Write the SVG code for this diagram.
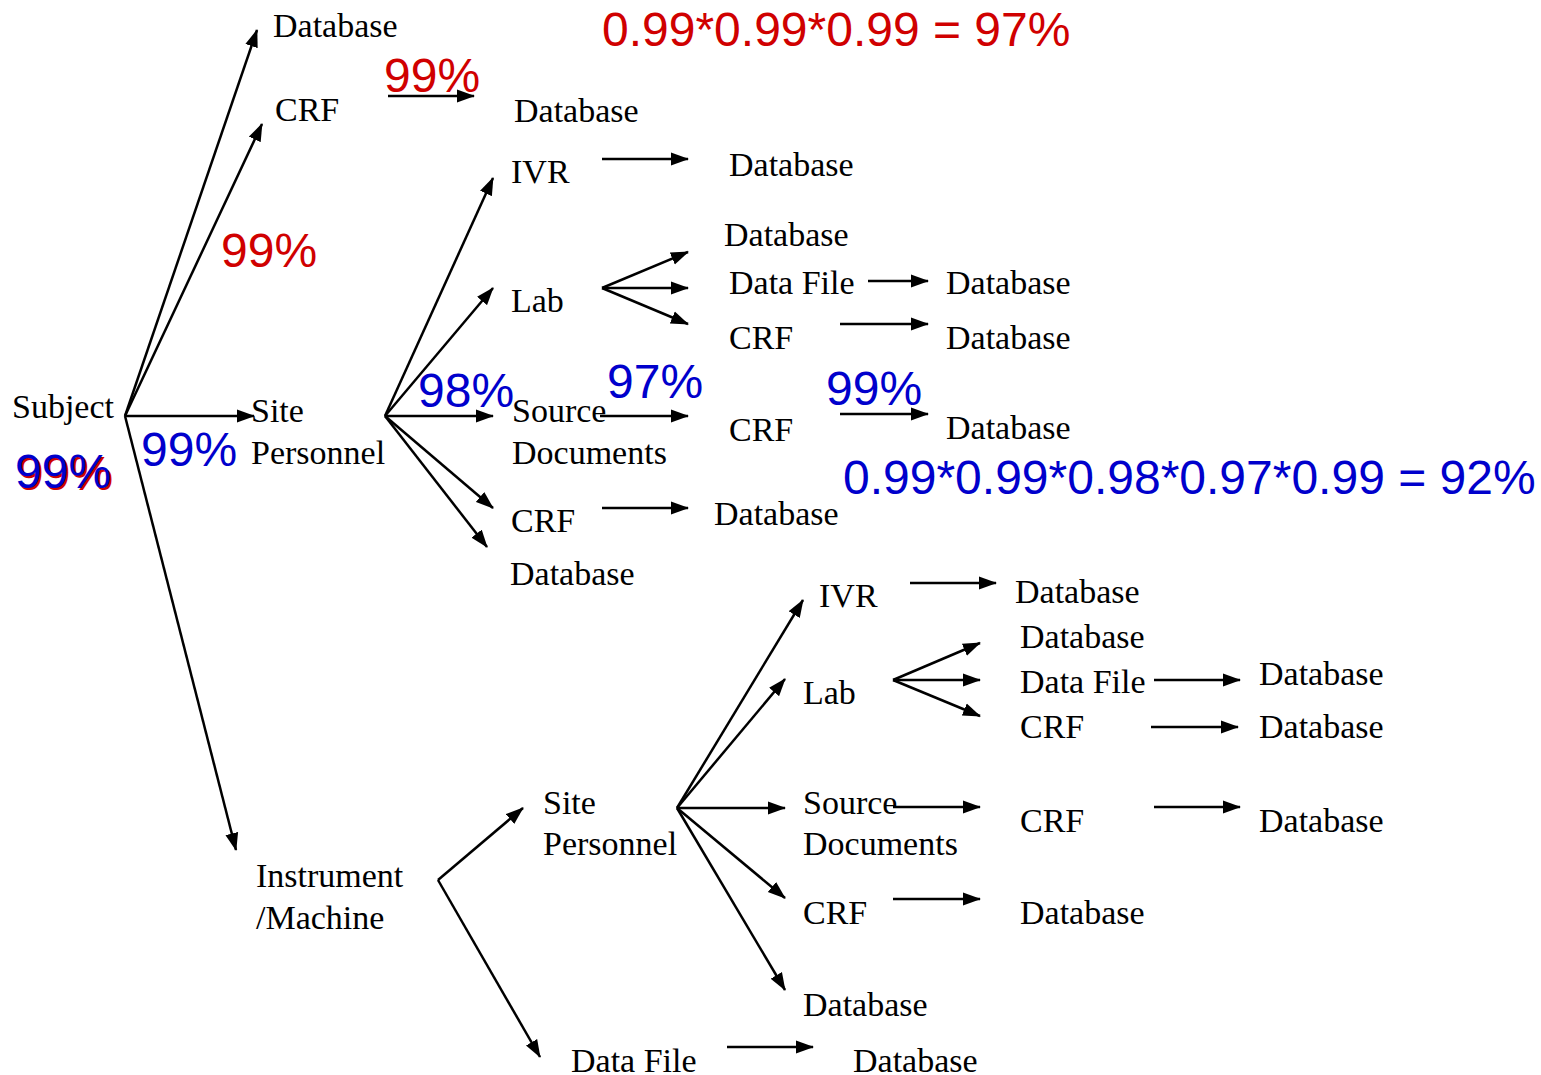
<svg xmlns="http://www.w3.org/2000/svg" width="1541" height="1075" viewBox="0 0 1541 1075">
<style>
.t{font-family:"Liberation Serif","Times New Roman",serif;font-size:34px;fill:#000}
.r{font-family:"Liberation Sans",Arial,sans-serif;font-size:48px;fill:#d00000}
.b{font-family:"Liberation Sans",Arial,sans-serif;font-size:48px;fill:#0000cc}
.c line{stroke:#000;stroke-width:2.5;marker-end:url(#ah)}
</style>
<defs>
<marker id="ah" markerUnits="userSpaceOnUse" markerWidth="18" markerHeight="14" refX="17" refY="6.5" orient="auto" viewBox="0 0 18 13">
<path d="M0,0 L18,6.5 L0,13 z" fill="#000"/>
</marker>
</defs>
<rect width="1541" height="1075" fill="#fff"/>
<g class="c" id="connectors">
<line x1="125" y1="416" x2="257" y2="30"/>
<line x1="125" y1="416" x2="262" y2="124"/>
<line x1="125" y1="416" x2="254" y2="416"/>
<line x1="125" y1="416" x2="236" y2="850"/>
<line x1="388" y1="96" x2="474" y2="96"/>
<line x1="385" y1="416" x2="493" y2="178"/>
<line x1="385" y1="416" x2="493" y2="288"/>
<line x1="385" y1="416" x2="493" y2="416"/>
<line x1="385" y1="416" x2="493" y2="508"/>
<line x1="385" y1="416" x2="487" y2="547"/>
<line x1="602" y1="159" x2="688" y2="159"/>
<line x1="602" y1="288" x2="688" y2="252"/>
<line x1="602" y1="288" x2="688" y2="288"/>
<line x1="602" y1="288" x2="688" y2="324"/>
<line x1="868" y1="281" x2="928" y2="281"/>
<line x1="840" y1="324" x2="928" y2="324"/>
<line x1="600" y1="416" x2="688" y2="416"/>
<line x1="840" y1="414" x2="928" y2="414"/>
<line x1="602" y1="508" x2="688" y2="508"/>
<line x1="438" y1="880" x2="523" y2="808"/>
<line x1="438" y1="880" x2="540" y2="1057"/>
<line x1="677" y1="808" x2="803" y2="600"/>
<line x1="677" y1="808" x2="785" y2="679"/>
<line x1="677" y1="808" x2="785" y2="808"/>
<line x1="677" y1="808" x2="785" y2="898"/>
<line x1="677" y1="808" x2="785" y2="990"/>
<line x1="910" y1="583" x2="996" y2="583"/>
<line x1="893" y1="680" x2="980" y2="643"/>
<line x1="893" y1="680" x2="980" y2="680"/>
<line x1="893" y1="680" x2="980" y2="716"/>
<line x1="1154" y1="680" x2="1240" y2="680"/>
<line x1="1151" y1="727" x2="1238" y2="727"/>
<line x1="893" y1="807" x2="980" y2="807"/>
<line x1="1154" y1="807" x2="1240" y2="807"/>
<line x1="893" y1="899" x2="980" y2="899"/>
<line x1="727" y1="1047" x2="813" y2="1047"/>
</g>
<g id="n-subject"><text class="t" x="12" y="418">Subject</text></g>
<g id="n-db1"><text class="t" x="273" y="37">Database</text></g>
<g id="n-crf1"><text class="t" x="275" y="121">CRF</text></g>
<g id="n-db2"><text class="t" x="514" y="122">Database</text></g>
<g id="n-site1"><text class="t" x="251" y="422">Site</text><text class="t" x="251" y="464">Personnel</text></g>
<g id="n-ivr1"><text class="t" x="511" y="183">IVR</text></g>
<g id="n-db3"><text class="t" x="729" y="176">Database</text></g>
<g id="n-lab1"><text class="t" x="511" y="312">Lab</text></g>
<g id="n-db4"><text class="t" x="724" y="246">Database</text></g>
<g id="n-df1"><text class="t" x="729" y="294">Data File</text></g>
<g id="n-db5"><text class="t" x="946" y="294">Database</text></g>
<g id="n-crf2"><text class="t" x="729" y="349">CRF</text></g>
<g id="n-db6"><text class="t" x="946" y="349">Database</text></g>
<g id="n-src1"><text class="t" x="512" y="422">Source</text><text class="t" x="512" y="464">Documents</text></g>
<g id="n-crf3"><text class="t" x="729" y="441">CRF</text></g>
<g id="n-db7"><text class="t" x="946" y="439">Database</text></g>
<g id="n-crf4"><text class="t" x="511" y="532">CRF</text></g>
<g id="n-db8"><text class="t" x="714" y="525">Database</text></g>
<g id="n-db9"><text class="t" x="510" y="585">Database</text></g>
<g id="n-inst"><text class="t" x="256" y="887">Instrument</text><text class="t" x="256" y="929">/Machine</text></g>
<g id="n-site2"><text class="t" x="543" y="814">Site</text><text class="t" x="543" y="855">Personnel</text></g>
<g id="n-ivr2"><text class="t" x="819" y="607">IVR</text></g>
<g id="n-db10"><text class="t" x="1015" y="603">Database</text></g>
<g id="n-lab2"><text class="t" x="803" y="704">Lab</text></g>
<g id="n-db11"><text class="t" x="1020" y="648">Database</text></g>
<g id="n-df2"><text class="t" x="1020" y="693">Data File</text></g>
<g id="n-db12"><text class="t" x="1259" y="685">Database</text></g>
<g id="n-crf5"><text class="t" x="1020" y="738">CRF</text></g>
<g id="n-db13"><text class="t" x="1259" y="738">Database</text></g>
<g id="n-src2"><text class="t" x="803" y="814">Source</text><text class="t" x="803" y="855">Documents</text></g>
<g id="n-crf6"><text class="t" x="1020" y="832">CRF</text></g>
<g id="n-db14"><text class="t" x="1259" y="832">Database</text></g>
<g id="n-crf7"><text class="t" x="803" y="924">CRF</text></g>
<g id="n-db15"><text class="t" x="1020" y="924">Database</text></g>
<g id="n-db16"><text class="t" x="803" y="1016">Database</text></g>
<g id="n-df3"><text class="t" x="571" y="1072">Data File</text></g>
<g id="n-db17"><text class="t" x="853" y="1072">Database</text></g>
<g id="labels">
<text class="r" x="602" y="46">0.99*0.99*0.99 = 97%</text>
<text class="r" x="384" y="92">99%</text>
<text class="r" x="221" y="267">99%</text>
<text class="r" x="17" y="490">99%</text>
<text class="b" x="15" y="488">99%</text>
<text class="b" x="141" y="466">99%</text>
<text class="b" x="418" y="407">98%</text>
<text class="b" x="607" y="398">97%</text>
<text class="b" x="826" y="405">99%</text>
<text class="b" x="843" y="494">0.99*0.99*0.98*0.97*0.99 = 92%</text>
</g>
</svg>
